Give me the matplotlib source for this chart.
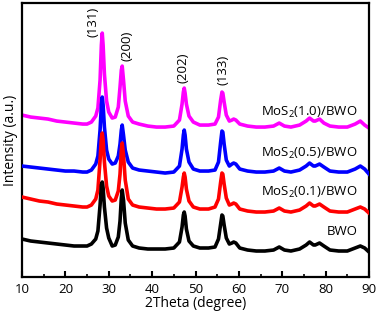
import matplotlib
matplotlib.use("Agg")
import matplotlib.pyplot as plt
from matplotlib.ticker import MultipleLocator

plt.rcParams['font.family'] = ['Open Sans', 'DejaVu Sans']
plt.rcParams['mathtext.fontset'] = 'custom'
plt.rcParams['mathtext.rm'] = 'Open Sans'
plt.rcParams['mathtext.it'] = 'Open Sans'

# 2theta grid (degree)
two_theta = [10, 12, 14, 16, 18, 20, 22, 24, 25, 26, 27, 27.5, 28.0, 28.3, 28.5, 28.7,
             29.0, 29.5, 30, 30.8, 31.5, 32.2, 32.6, 32.9, 33.1, 33.4, 33.8, 34.5, 35.5,
             37, 39, 41, 43, 45, 46.3, 46.9, 47.2, 47.4, 47.6, 47.9, 48.5, 49.5, 51, 53,
             54.5, 55.3, 55.8, 56.1, 56.3, 56.6, 57.1, 57.8, 58.4, 58.8, 59.3, 60.2, 62,
             64, 66, 68, 69.3, 70.5, 72, 74, 75.5, 76.3, 77.2, 77.6, 78.6, 79.6, 81, 83,
             85, 86.8, 88, 89, 90]

# intensities (a.u., already stacked)
bwo = [38, 36, 35, 34, 33, 32, 31, 31, 31, 33, 38, 46, 72, 92, 95, 89,
       70, 49, 39, 31, 32, 40, 56, 79, 87, 77, 54, 37, 31,
       29, 28, 28, 28, 29, 35, 50, 62, 65, 61, 48, 36, 31, 29, 29,
       30, 38, 53, 62, 61, 52, 39, 33, 34, 35, 34, 29, 27,
       26, 26, 27, 30, 27, 26, 28, 32, 35, 32, 32, 34, 31, 27, 26,
       26, 29, 31, 29, 25]
mos_01 = [80, 78, 76, 75, 73, 72, 71, 70, 70, 72, 78, 87, 117, 139, 144, 137,
          115, 91, 81, 76, 77, 86, 103, 127, 134, 122, 97, 78, 72,
          70, 69, 68, 68, 69, 75, 90, 100, 104, 100, 88, 76, 70, 68, 68,
          70, 78, 95, 104, 103, 93, 79, 72, 73, 74, 73, 68, 66,
          65, 65, 66, 69, 66, 65, 67, 71, 74, 71, 71, 73, 70, 66, 65,
          65, 68, 70, 68, 64]
mos_05 = [111, 110, 109, 108, 107, 106, 106, 105, 105, 107, 113, 121, 147, 172, 180, 172,
          150, 127, 118, 113, 114, 121, 133, 147, 152, 142, 127, 115, 109,
          107, 106, 105, 104, 105, 111, 128, 142, 147, 142, 128, 115, 108, 106, 106,
          107, 115, 135, 146, 145, 133, 117, 111, 113, 114, 113, 108, 106,
          105, 105, 106, 109, 106, 105, 107, 111, 114, 111, 111, 113, 110, 106, 105,
          105, 108, 111, 108, 103]
mos_10 = [162, 160, 159, 158, 156, 155, 154, 153, 153, 155, 161, 169, 197, 232, 244, 232,
          203, 176, 165, 159, 160, 170, 190, 207, 211, 197, 176, 161, 155,
          153, 151, 150, 150, 151, 157, 173, 185, 189, 184, 173, 161, 155, 152, 152,
          153, 160, 177, 185, 184, 175, 162, 156, 157, 158, 157, 153, 151,
          150, 150, 151, 154, 151, 150, 152, 156, 159, 156, 156, 158, 154, 151, 150,
          150, 153, 156, 152, 149]

series = [mos_10, mos_05, mos_01, bwo]
colors = ['#ff00ff', '#0000ff', '#ff0000', '#000000']
names = [r'MoS$_2$(1.0)/BWO', r'MoS$_2$(0.5)/BWO', r'MoS$_2$(0.1)/BWO', 'BWO']
name_y = [165, 124, 85, 46]

peak_labels = ['(131)', '(200)', '(202)', '(133)']
peak_x = [26.3, 34.2, 47.2, 56.4]
peak_y = [255, 231, 209, 207]

fig = plt.figure(figsize=(3.78, 3.17), dpi=100)
ax = fig.add_axes([0.0582, 0.1262, 0.918, 0.864])

for i, (vals, c) in enumerate(zip(series, colors)):
    ax.plot(two_theta, vals, color=c, lw=2.6, zorder=2 + i,
            solid_joinstyle='round')

for name, yy in zip(names, name_y):
    ax.text(87.4, yy, name, ha='right', va='center', fontsize=9.5)

for lab, px, py in zip(peak_labels, peak_x, peak_y):
    ax.text(px, py, lab, rotation=90, ha='center', va='center', fontsize=9.5)

ax.set_xlim(10, 90)
ax.set_ylim(0, 274)
ax.set_yticks([])
ax.xaxis.set_major_locator(MultipleLocator(10))
ax.xaxis.set_minor_locator(MultipleLocator(5))
ax.tick_params(axis='x', which='major', direction='in', length=4, width=1.5,
               labelsize=9.5, pad=4)
ax.tick_params(axis='x', which='minor', direction='in', length=2.5, width=1.2)
for sp in ax.spines.values():
    sp.set_linewidth(1.6)

ax.set_xlabel('2Theta (degree)', fontsize=10, labelpad=0)
ax.set_ylabel('Intensity (a.u.)', fontsize=10, labelpad=3)

fig.savefig('out.png', dpi=100)
